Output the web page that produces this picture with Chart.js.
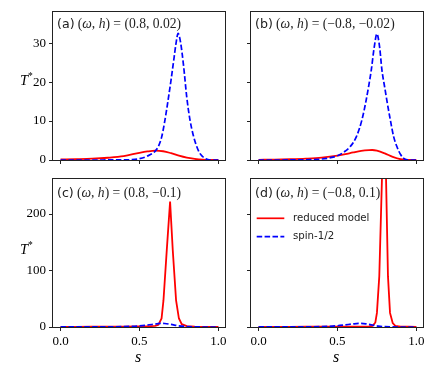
<!DOCTYPE html>
<html><head><meta charset="utf-8">
<script src="https://cdn.jsdelivr.net/npm/chart.js@4.4.1/dist/chart.umd.min.js"></script>
<style>
html,body{margin:0;padding:0;background:#fff;}
#fig{position:relative;width:436px;height:374px;overflow:hidden;background:#fff;}
canvas{position:absolute;}
.lbl{position:absolute;font-family:"Liberation Serif",serif;color:#000;white-space:nowrap;line-height:1;}
.ann{position:absolute;font-size:12.6px;white-space:nowrap;line-height:1;color:#222;}
.ann .sf{font-family:"DejaVu Sans",sans-serif;}
.ann .m{font-family:"Liberation Serif",serif;font-size:13.6px;}
</style></head>
<body>
<div id="fig">
  <canvas id="ca"></canvas><canvas id="cb"></canvas><canvas id="cc"></canvas><canvas id="cd"></canvas>
  <div class="ann" style="left:57px;top:17px"><span class="sf">(a)</span> <span class="m">(<i>ω</i>, <i>h</i>) = (0.8, 0.02)</span></div>
  <div class="ann" style="left:255px;top:17px"><span class="sf">(b)</span> <span class="m">(<i>ω</i>, <i>h</i>) = (−0.8, −0.02)</span></div>
  <div class="ann" style="left:57px;top:186px"><span class="sf">(c)</span> <span class="m">(<i>ω</i>, <i>h</i>) = (0.8, −0.1)</span></div>
  <div class="ann" style="left:255px;top:186px"><span class="sf">(d)</span> <span class="m">(<i>ω</i>, <i>h</i>) = (−0.8, 0.1)</span></div>
  <div class="lbl" style="left:20px;top:72px;font-size:14.5px"><i>T</i><sup style="font-size:9.5px;vertical-align:6px">*</sup></div>
  <div class="lbl" style="left:20px;top:241px;font-size:14.5px"><i>T</i><sup style="font-size:9.5px;vertical-align:6px">*</sup></div>
  <div class="lbl" style="left:135px;top:349px;font-size:16px"><i>s</i></div>
  <div class="lbl" style="left:333px;top:349px;font-size:16px"><i>s</i></div>
</div>
<script>
// ---------- data ----------
const xTicks = [0, 0.5, 1.0];
const yTicksTop = [0, 10, 20, 30];
const yTicksBottom = [0, 100, 200];
const seriesNames = ['reduced model', 'spin-1/2'];

// (a) (w,h) = (0.8, 0.02)
const sRedA = [0,0.1,0.2,0.3,0.4,0.5,0.55,0.6,0.65,0.7,0.75,0.8,0.85,0.9,0.95,1.0];
const tRedA = [0.15,0.22,0.33,0.58,1.0,1.85,2.2,2.4,2.25,1.75,1.1,0.6,0.3,0.1,0.02,0];
const sBlueA = [0,0.1,0.2,0.3,0.4,0.45,0.5,0.55,0.6,0.62,0.64,0.66,0.68,0.70,0.72,0.73,0.745,0.76,0.78,0.80,0.82,0.84,0.86,0.88,0.90,0.92,0.94,0.96,0.98,1.0];
const tBlueA = [0,0,0,0.01,0.03,0.1,0.35,1.0,2.3,3.5,5.8,9.9,15,20.5,26.5,29.5,32.5,30.3,24,16,10.3,6.5,3.8,1.9,0.9,0.3,0.05,0,0,0];

// (b) (w,h) = (-0.8, -0.02)
const sRedB = [0,0.1,0.2,0.3,0.4,0.5,0.55,0.6,0.65,0.7,0.72,0.75,0.8,0.85,0.9,0.95,1.0];
const tRedB = [0.05,0.1,0.2,0.35,0.6,1.1,1.5,1.95,2.35,2.55,2.57,2.4,1.7,0.8,0.2,0.02,0];
const sBlueB = [0,0.1,0.2,0.3,0.35,0.4,0.45,0.5,0.55,0.58,0.62,0.655,0.68,0.70,0.714,0.733,0.75,0.767,0.782,0.80,0.81,0.835,0.856,0.877,0.90,0.92,0.94,0.96,0.98,1.0];
const tBlueB = [0,0,0.02,0.06,0.12,0.25,0.55,1.1,2.3,3.4,6,10.3,15,19.5,23,29,32.4,29,23,18.5,16,10.3,6,3.4,1.4,0.4,0.05,0,0,0];

// (c) (w,h) = (0.8, -0.1)
const sRedC = [0,0.1,0.2,0.3,0.4,0.5,0.55,0.6,0.62,0.64,0.652,0.673,0.694,0.711,0.732,0.75,0.768,0.8,0.85,0.9,0.95,1.0];
const tRedC = [0.3,0.35,0.4,0.5,0.6,0.9,1.2,2,4,15,47,136,222,136,47,15,5,1.5,0.6,0.3,0.2,0.1];
const sBlueC = [0,0.1,0.2,0.3,0.4,0.45,0.5,0.55,0.6,0.63,0.66,0.7,0.75,0.8,0.85,0.9,0.95,1.0];
const tBlueC = [0.1,0.15,0.2,0.35,0.7,1.2,2,3.4,5.3,6.3,6.2,4.5,2,0.6,0.15,0.03,0,0];

// (d) (w,h) = (-0.8, 0.1)
const sRedD = [0,0.1,0.2,0.3,0.4,0.5,0.6,0.65,0.7,0.723,0.74,0.75,0.765,0.797,0.82,0.833,0.85,0.867,0.9,0.95,1.0];
const tRedD = [0.3,0.3,0.35,0.4,0.45,0.5,0.6,0.7,1,2,8,25,90,416,90,25,7,2,0.8,0.4,0.2];
const sBlueD = [0,0.1,0.2,0.3,0.4,0.45,0.5,0.55,0.6,0.64,0.68,0.72,0.76,0.8,0.85,0.9,0.95,1.0];
const tBlueD = [0.05,0.1,0.15,0.3,0.6,1.2,2.2,3.8,5.5,6.3,5.6,3.6,1.6,0.5,0.1,0.02,0,0];

// ---------- drawing ----------
const zip = (xs, ys) => xs.map((x, i) => ({x, y: ys[i]}));
const PW = 172, PH = 148;
const TICKFONT = {family: '"Liberation Serif", serif', size: 13};

const frame = {
  id: 'frame',
  afterDatasetsDraw(chart) {
    const a = chart.chartArea, c = chart.ctx;
    c.save();
    c.strokeStyle = '#222'; c.lineWidth = 1;
    c.strokeRect(Math.round(a.left) - 0.5, Math.round(a.top) - 0.5,
                 Math.round(a.right - a.left) + 1, Math.round(a.bottom - a.top) + 1);
    c.restore();
  }
};

const legendPlugin = {
  id: 'inlegend',
  afterDraw(chart) {
    const a = chart.chartArea, c = chart.ctx;
    c.save();
    c.font = '10.2px "DejaVu Sans", sans-serif';
    c.textBaseline = 'middle';
    c.fillStyle = '#222';
    const items = [{col: '#ff0000', dash: [], dy: 39.3, text: seriesNames[0]},
                   {col: '#0000ff', dash: [5.5, 2.4], dy: 57.7, text: seriesNames[1]}];
    items.forEach(it => {
      c.strokeStyle = it.col; c.lineWidth = 1.7; c.setLineDash(it.dash);
      c.beginPath(); c.moveTo(a.left + 5.7, a.top + it.dy); c.lineTo(a.left + 33.3, a.top + it.dy); c.stroke();
      c.fillText(it.text, a.left + 42, a.top + it.dy);
    });
    c.restore();
  }
};

function panel(id, left, top, leftPad, bottomPad, red, blue, redLinear, ymax, yTicks, showY, showX, extra) {
  const cv = document.getElementById(id);
  const w = leftPad + PW + 2, h = 2 + PH + bottomPad;
  cv.width = w; cv.height = h;
  cv.style.left = (left - leftPad) + 'px'; cv.style.top = (top - 2) + 'px';
  cv.style.width = w + 'px'; cv.style.height = h + 'px';
  const red_ds = {label: seriesNames[0], data: red, borderColor: '#ff0000', borderWidth: 1.8,
                  pointRadius: 0, fill: false, order: 1};
  if (redLinear) red_ds.tension = 0; else red_ds.cubicInterpolationMode = 'monotone';
  const blue_ds = {label: seriesNames[1], data: blue, borderColor: '#0000ff', borderWidth: 1.7,
                   borderDash: [5.5, 2.4], pointRadius: 0, fill: false, order: 0,
                   cubicInterpolationMode: 'monotone'};
  new Chart(cv, {
    type: 'line',
    data: {datasets: [red_ds, blue_ds]},
    options: {
      responsive: false, animation: false, devicePixelRatio: 1,
      layout: {padding: {top: 2, right: 2, left: 0, bottom: 0}},
      plugins: {legend: {display: false}, tooltip: {enabled: false}, title: {display: false}},
      scales: {
        x: {
          type: 'linear', min: -0.048, max: 1.042,
          afterBuildTicks: s => { s.ticks = xTicks.map(v => ({value: v})); },
          ticks: {callback: v => showX ? v.toFixed(1) : '', font: TICKFONT, color: '#000',
                  padding: 3, maxRotation: 0, autoSkip: false},
          grid: {drawOnChartArea: false, drawTicks: true, tickLength: 4, tickWidth: 1, tickColor: '#222'},
          border: {display: false},
          afterFit: s => { s.height = bottomPad; s.paddingLeft = 0; s.paddingRight = 0; }
        },
        y: {
          type: 'linear', min: 0, max: ymax,
          afterBuildTicks: s => { s.ticks = yTicks.map(v => ({value: v})); },
          ticks: {callback: v => showY ? String(v) : '', font: TICKFONT, color: '#000',
                  padding: 3, autoSkip: false},
          grid: {drawOnChartArea: false, drawTicks: true, tickLength: 4, tickWidth: 1, tickColor: '#222'},
          border: {display: false},
          afterFit: s => { s.width = leftPad; s.paddingTop = 0; s.paddingBottom = 0; }
        }
      }
    },
    plugins: extra ? [frame, extra] : [frame]
  });
}

panel('ca', 53, 12, 53, 10, zip(sRedA, tRedA), zip(sBlueA, tBlueA), false, 38, yTicksTop, true, false);
panel('cb', 251, 12, 10, 10, zip(sRedB, tRedB), zip(sBlueB, tBlueB), false, 38, yTicksTop, false, false);
panel('cc', 53, 179, 53, 47, zip(sRedC, tRedC), zip(sBlueC, tBlueC), true, 262, yTicksBottom, true, true);
panel('cd', 251, 179, 10, 47, zip(sRedD, tRedD), zip(sBlueD, tBlueD), true, 262, yTicksBottom, false, true, legendPlugin);
</script>
</body></html>
